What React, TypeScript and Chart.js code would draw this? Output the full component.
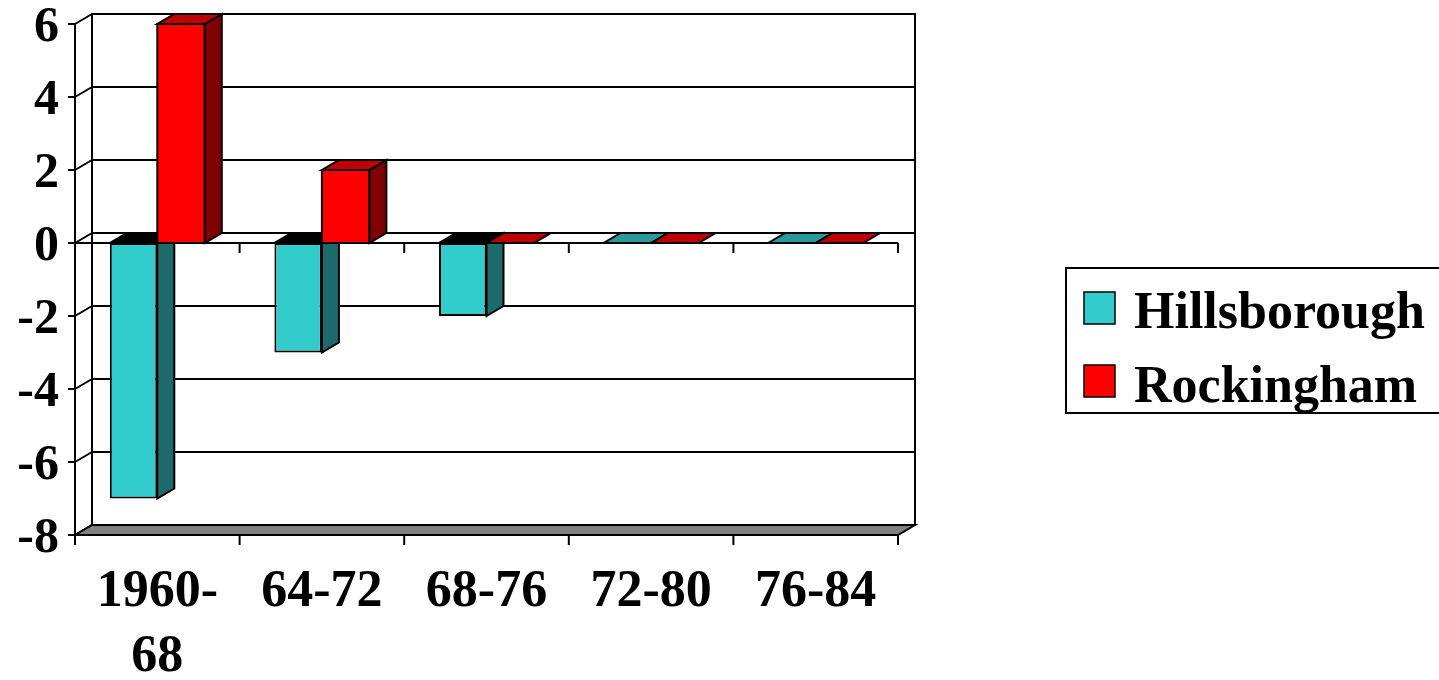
import React, { useEffect, useRef } from "react";
import { Chart, registerables } from "chart.js";

Chart.register(...registerables);

const categories: (string | string[])[] = [["1960-", "68"], "64-72", "68-76", "72-80", "76-84"];
const hillsborough = [-7, -3, -2, 0, 0];
const rockingham = [6, 2, 0, 0, 0];
const yTickValues = [-8, -6, -4, -2, 0, 2, 4, 6];
const seriesNames = ["Hillsborough", "Rockingham"];

const DX = 17;
const DY = -10;
const FONT = '"Liberation Serif", "Times New Roman", serif';

const faces = [
  { front: "#33CCCC", side: "#1C6A6A", top: "#279B9B" },
  { front: "#FF0000", side: "#800000", top: "#C00000" },
];

function poly(ctx: CanvasRenderingContext2D, pts: number[][], fill: string | null) {
  ctx.beginPath();
  ctx.moveTo(pts[0][0], pts[0][1]);
  for (let i = 1; i < pts.length; i++) ctx.lineTo(pts[i][0], pts[i][1]);
  ctx.closePath();
  if (fill) {
    ctx.fillStyle = fill;
    ctx.fill();
  }
  ctx.stroke();
}

function seg(ctx: CanvasRenderingContext2D, x1: number, y1: number, x2: number, y2: number) {
  ctx.beginPath();
  ctx.moveTo(x1, y1);
  ctx.lineTo(x2, y2);
  ctx.stroke();
}

const threeD = {
  id: "threeD",
  beforeDatasetsDraw(chart: any) {
    const ctx: CanvasRenderingContext2D = chart.ctx;
    const { left: L, right: R, top: T, bottom: B } = chart.chartArea;
    const ys = chart.scales.y;
    const xs = chart.scales.x;
    ctx.save();
    ctx.strokeStyle = "#000";
    ctx.lineWidth = 2;
    ctx.lineJoin = "miter";
    // back wall
    ctx.fillStyle = "#fff";
    ctx.fillRect(L + DX, T + DY, R - L, B - T);
    ctx.strokeRect(L + DX, T + DY, R - L, B - T);
    for (const v of yTickValues) {
      const py = ys.getPixelForValue(v);
      seg(ctx, L + DX, py + DY, R + DX, py + DY);
      seg(ctx, L, py, L + DX, py + DY);
      seg(ctx, L - 7, py, L, py);
    }
    // floor
    poly(ctx, [[L, B], [R, B], [R + DX, B + DY], [L + DX, B + DY]], "#808080");
    // left axis
    seg(ctx, L, T, L, B);
    // zero line front
    const y0 = ys.getPixelForValue(0);
    seg(ctx, L, y0, R, y0);
    const n = categories.length;
    for (let i = 0; i <= n; i++) {
      const bx = xs.getPixelForValue(i - 0.5);
      if (i > 0) seg(ctx, bx, y0, bx, y0 + 10);
      seg(ctx, bx, B, bx, B + 10);
    }
    ctx.restore();
  },
  afterDatasetsDraw(chart: any) {
    const ctx: CanvasRenderingContext2D = chart.ctx;
    ctx.save();
    ctx.strokeStyle = "#000";
    ctx.lineWidth = 2;
    ctx.lineJoin = "miter";
    for (let d = 0; d < 2; d++) {
      const meta = chart.getDatasetMeta(d);
      const values = chart.data.datasets[d].data as number[];
      meta.data.forEach((el: any, i: number) => {
        const p = el.getProps(["x", "y", "base", "width"], true);
        const left = p.x - p.width / 2;
        const right = p.x + p.width / 2;
        const top = Math.min(p.y, p.base);
        const bottom = Math.max(p.y, p.base);
        const h = bottom - top;
        if (d === 1 && h > 0.5) {
          ctx.fillStyle = faces[d].front;
          ctx.fillRect(left, top, right - left, h);
          ctx.strokeRect(left, top, right - left, h);
        }
        if (h > 0.5) {
          poly(ctx, [[right, top], [right + DX, top + DY], [right + DX, bottom + DY], [right, bottom]], faces[d].side);
        }
        const topFill = values[i] < 0 ? "#000000" : faces[d].top;
        poly(ctx, [[left, top], [right, top], [right + DX, top + DY], [left + DX, top + DY]], topFill);
      });
    }
    ctx.restore();
  },
  afterDraw(chart: any) {
    const ctx: CanvasRenderingContext2D = chart.ctx;
    ctx.save();
    ctx.strokeStyle = "#000";
    ctx.lineWidth = 2;
    ctx.strokeRect(1066, 268, 400, 145);
    const rows = [
      { y: 292, base: 328 },
      { y: 365, base: 402 },
    ];
    ctx.font = `bold 52px ${FONT}`;
    ctx.textBaseline = "alphabetic";
    ctx.textAlign = "left";
    rows.forEach((r, i) => {
      ctx.fillStyle = faces[i].front;
      ctx.fillRect(1084, r.y, 31, 32);
      ctx.lineWidth = 1.5;
      ctx.strokeRect(1084, r.y, 31, 32);
      ctx.fillStyle = "#000";
      ctx.fillText(seriesNames[i], 1134, r.base);
    });
    ctx.restore();
  },
};

export default function App() {
  const ref = useRef<HTMLCanvasElement | null>(null);
  useEffect(() => {
    document.body.style.margin = "0";
    const canvas = ref.current!;
    const chart = new Chart(canvas, {
      type: "bar",
      data: {
        labels: categories as any,
        datasets: [
          {
            label: seriesNames[0],
            data: hillsborough,
            backgroundColor: faces[0].front,
            borderColor: "#000",
            borderWidth: 2,
            borderSkipped: false,
          },
          {
            label: seriesNames[1],
            data: rockingham,
            backgroundColor: faces[1].front,
            borderColor: "#000",
            borderWidth: 2,
            borderSkipped: false,
          },
        ],
      },
      options: {
        responsive: false,
        animation: false,
        devicePixelRatio: 1,
        events: [],
        layout: { padding: { top: 24, right: 541, left: 0, bottom: 0 } },
        datasets: { bar: { categoryPercentage: 0.577, barPercentage: 1 } },
        plugins: { legend: { display: false }, tooltip: { enabled: false } },
        scales: {
          x: {
            grid: { display: false, drawTicks: false },
            border: { display: false },
            ticks: {
              color: "#000",
              padding: 25,
              maxRotation: 0,
              autoSkip: false,
              font: { family: FONT, size: 52, weight: "bold", lineHeight: 1.25 },
            },
            afterFit: (s: any) => {
              s.height = 145;
              s.paddingLeft = 0;
              s.paddingRight = 0;
            },
          },
          y: {
            min: -8,
            max: 6,
            grid: { display: false, drawTicks: false },
            border: { display: false },
            ticks: {
              stepSize: 2,
              color: "#000",
              padding: 16,
              labelOffset: 4,
              font: { family: FONT, size: 50, weight: "bold" },
            },
            afterFit: (s: any) => {
              s.width = 75;
              s.paddingTop = 0;
              s.paddingBottom = 0;
            },
          },
        },
      },
      plugins: [threeD],
    } as any);
    return () => chart.destroy();
  }, []);
  return (
    <div style={{ width: 1439, height: 680, background: "#fff" }}>
      <canvas ref={ref} width={1439} height={680} style={{ display: "block" }} />
    </div>
  );
}
